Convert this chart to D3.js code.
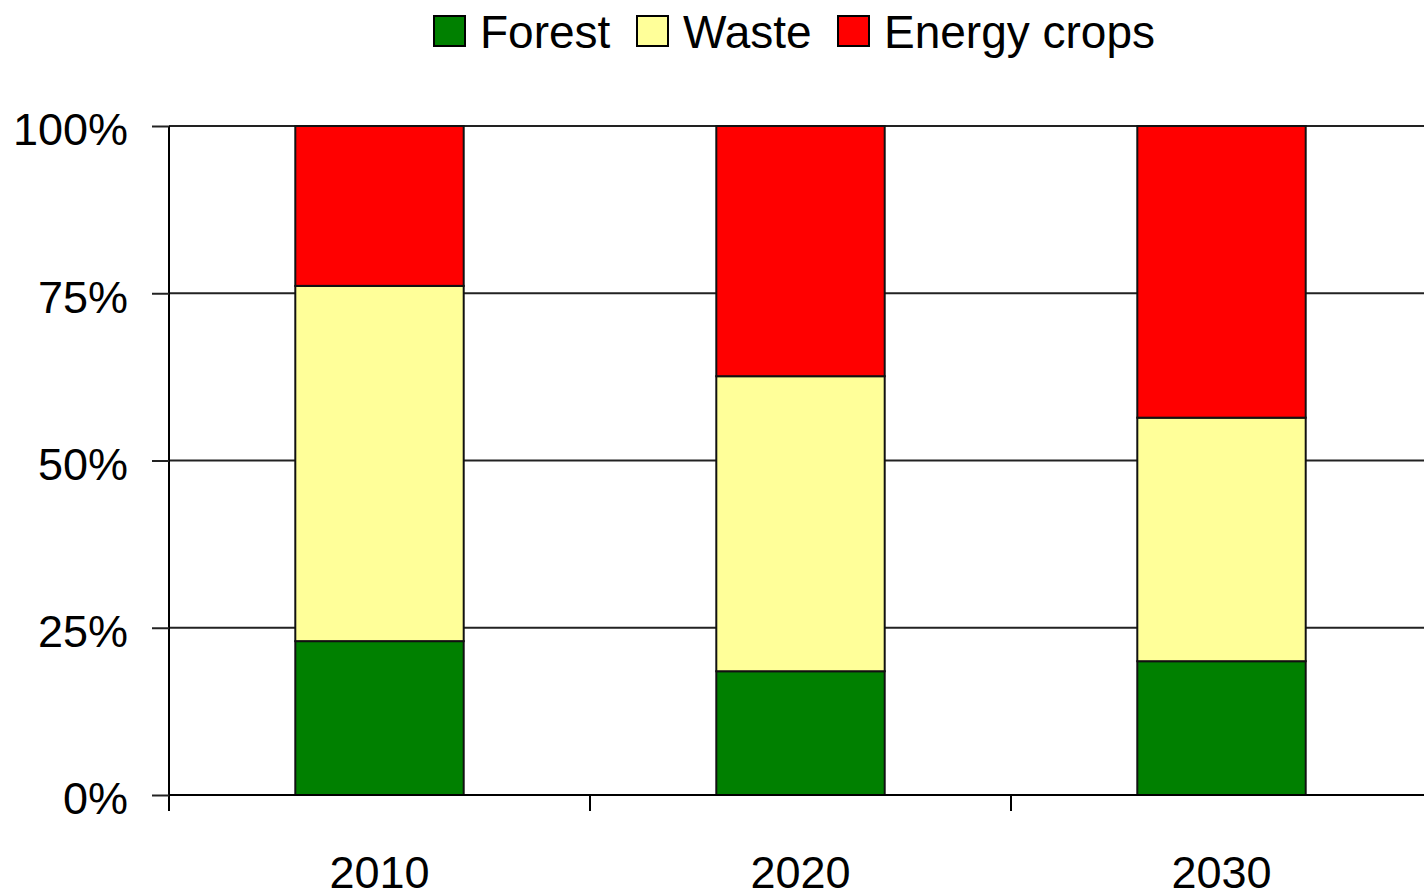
<!DOCTYPE html>
<html>
<head>
<meta charset="utf-8">
<script src="https://cdn.jsdelivr.net/npm/d3@7"></script>
<style>
  html, body { margin: 0; padding: 0; background: #fff; }
  svg { display: block; font-family: "Liberation Sans", Arial, sans-serif; }
</style>
</head>
<body>
<svg id="chart" width="1424" height="893"></svg>
<script>
// Biomass supply shares by year (percent of total)
const years = ["2010", "2020", "2030"];
const seriesNames = ["Forest", "Waste", "Energy crops"];
const forest = [23.0, 18.5, 20.0];
const waste = [53.1, 44.1, 36.4];
const energyCrops = [23.9, 37.4, 43.6];
const colors = ["#008000", "#FFFF99", "#FF0000"];
const yTicks = [0, 25, 50, 75, 100];

const rows = years.map((y, i) => ({
  year: y,
  "Forest": forest[i],
  "Waste": waste[i],
  "Energy crops": energyCrops[i]
}));

const svg = d3.select("#chart");
const margin = { left: 169, top: 126, bottom: 98 };
const bandW = 421;
const plotBottom = 893 - margin.bottom;

const x = d3.scaleBand()
  .domain(years)
  .range([margin.left, margin.left + bandW * years.length])
  .paddingInner(0.6)
  .paddingOuter(0.3);

const y = d3.scaleLinear().domain([0, 100]).range([plotBottom, margin.top]);

const color = d3.scaleOrdinal().domain(seriesNames).range(colors);

// horizontal gridlines
svg.append("g")
  .selectAll("line")
  .data(yTicks.filter(d => d > 0))
  .join("line")
  .attr("x1", margin.left).attr("x2", 1424)
  .attr("y1", d => y(d)).attr("y2", d => y(d))
  .attr("stroke", "#222").attr("stroke-width", 2);

// stacked bars
const stacked = d3.stack().keys(seriesNames)(rows);
svg.append("g")
  .selectAll("g")
  .data(stacked)
  .join("g")
  .attr("fill", d => color(d.key))
  .selectAll("rect")
  .data(d => d)
  .join("rect")
  .attr("x", d => x(d.data.year))
  .attr("width", x.bandwidth())
  .attr("y", d => y(d[1]))
  .attr("height", d => y(d[0]) - y(d[1]))
  .attr("stroke", "#111")
  .attr("stroke-width", 2);

// y axis
const yAxis = d3.axisLeft(y)
  .tickValues(yTicks)
  .tickFormat(d => d + "%")
  .tickSize(17)
  .tickPadding(24);
const gy = svg.append("g")
  .attr("transform", `translate(${margin.left},0)`)
  .call(yAxis);
gy.select(".domain").attr("d", `M0,${margin.top}V${plotBottom + 16}`)
  .attr("stroke", "#000").attr("stroke-width", 2);
gy.selectAll(".tick line").attr("stroke", "#222").attr("stroke-width", 2);
gy.selectAll(".tick text")
  .attr("font-size", 45)
  .attr("fill", "#000")
  .attr("dy", "0.42em");

// x axis baseline and category separators
const boundaries = years.map((d, i) => margin.left + bandW * i).slice(1)
  .concat([margin.left + bandW * years.length]);
svg.append("line")
  .attr("x1", margin.left).attr("x2", 1424)
  .attr("y1", plotBottom).attr("y2", plotBottom)
  .attr("stroke", "#000").attr("stroke-width", 2);
svg.append("g")
  .selectAll("line")
  .data(boundaries)
  .join("line")
  .attr("x1", d => d).attr("x2", d => d)
  .attr("y1", plotBottom).attr("y2", plotBottom + 16)
  .attr("stroke", "#000").attr("stroke-width", 2);

// category labels
svg.append("g")
  .selectAll("text")
  .data(years)
  .join("text")
  .attr("x", d => x(d) + x.bandwidth() / 2)
  .attr("y", plotBottom + 93)
  .attr("text-anchor", "middle")
  .attr("font-size", 45)
  .attr("fill", "#000")
  .text(d => d);

// legend
const legendItems = [
  { name: "Forest", x: 434 },
  { name: "Waste", x: 637 },
  { name: "Energy crops", x: 838 }
];
const lg = svg.append("g")
  .selectAll("g")
  .data(legendItems)
  .join("g")
  .attr("transform", d => `translate(${d.x},0)`);
lg.append("rect")
  .attr("x", 0).attr("y", 16)
  .attr("width", 31).attr("height", 30)
  .attr("fill", d => color(d.name))
  .attr("stroke", "#000").attr("stroke-width", 2);
lg.append("text")
  .attr("x", 46).attr("y", 48)
  .attr("font-size", 46)
  .attr("fill", "#000")
  .text(d => d.name);
</script>
</body>
</html>
